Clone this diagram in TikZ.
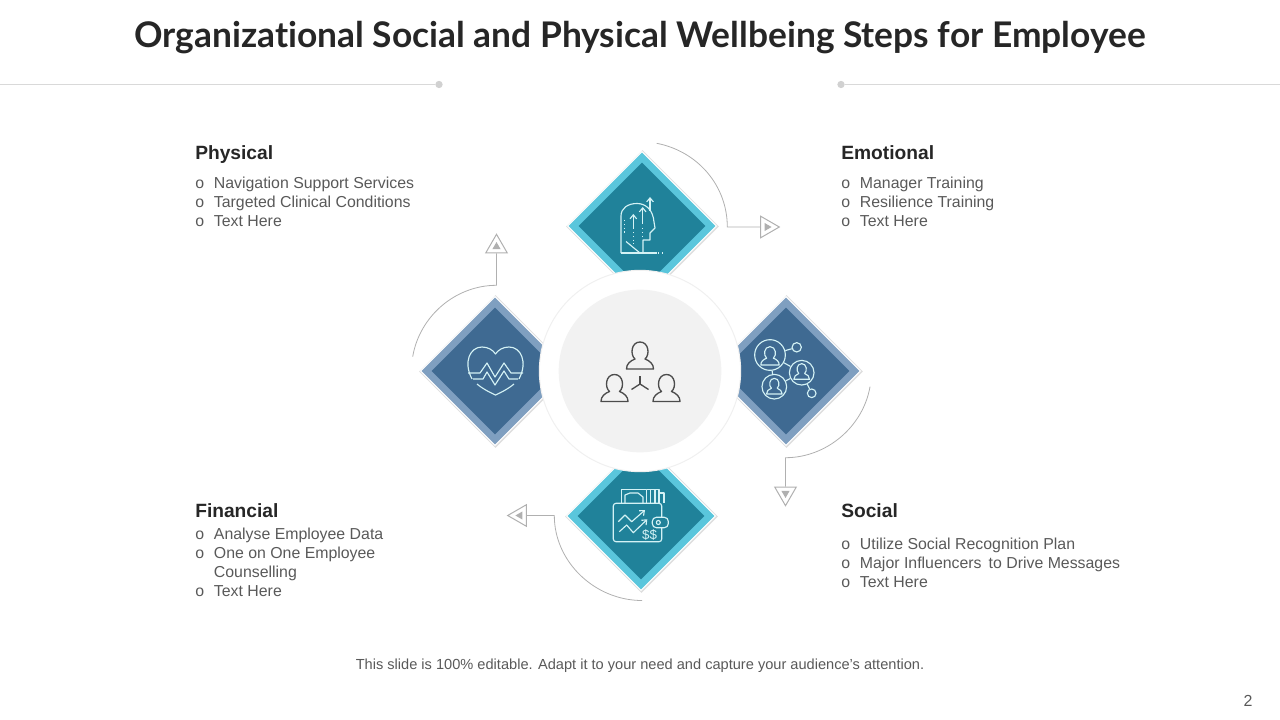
\documentclass[tikz,border=0pt]{standalone}
\usepackage{fontspec}
\setmainfont{Liberation Sans}
\newfontfamily\titlefont[Ligatures=NoCommon]{Lato}
\usetikzlibrary{shapes.geometric,arrows.meta}
\definecolor{tealIn}{HTML}{20829A}
\definecolor{tealOut}{HTML}{5AC6DC}
\definecolor{blueIn}{HTML}{3F6A92}
\definecolor{blueOut}{HTML}{7F9FC0}
\definecolor{bodyGrey}{HTML}{595959}
\definecolor{headDark}{HTML}{262626}
\definecolor{arcGrey}{HTML}{B0B0B0}
\definecolor{iconLight}{HTML}{D4F2F5}
\tikzset{
  tile/.style={shape=diamond,aspect=1,inner sep=0pt,outer sep=0pt},
  tileshade/.style={tile,fill=black!13,minimum width=114.5pt,minimum height=114.5pt},
  tileout/.style={tile,draw=white,line width=0.8pt,minimum width=111.5pt,minimum height=111.5pt},
  tilein/.style={tile,minimum width=95pt,minimum height=95pt},
  tipout/.style={shape=regular polygon,regular polygon sides=3,draw=arcGrey,fill=white,line width=0.75pt,inner sep=0pt,minimum size=18.6pt},
  tipin/.style={shape=regular polygon,regular polygon sides=3,fill=arcGrey,inner sep=0pt,minimum size=7pt},
  arcline/.style={draw=arcGrey,line width=0.6pt},
  iconline/.style={draw=iconLight,line width=0.85pt,line join=round},
  darkline/.style={draw=black!70,line width=1pt,line join=round},
  head/.style={anchor=base west,inner sep=0pt,font=\fontsize{14.4}{17}\selectfont\bfseries,text=headDark},
  blurb/.style={anchor=north west,inner sep=0pt,text=bodyGrey,font=\fontsize{11.9}{14.25}\selectfont},
  hub/.style={shape=circle,draw=iconLight,line width=0.85pt,inner sep=0pt},
  pics/person/.style={code={
    \draw[pic actions] (-13.5,0) -- (13.5,0) .. controls (13.5,-5) and (10,-8) .. (5,-10)
      .. controls (10,-14) and (9,-27) .. (0,-27) .. controls (-9,-27) and (-10,-14) .. (-5,-10)
      .. controls (-10,-8) and (-13.5,-5) .. (-13.5,0) -- cycle;
  }}
}
\begin{document}
\begin{tikzpicture}[x=0.75pt,y=-0.75pt]
\useasboundingbox (0,0) rectangle (1280,720);

\node[inner sep=0pt] (title) at (640,38) {\titlefont\fontsize{26.5}{30}\selectfont\bfseries\textcolor{headDark}{Organizational Social and Physical Wellbeing Steps for Employee}};

% rule under the title
\node[circle,fill=black!18,minimum size=5.5pt,inner sep=0pt] (dotL) at (439,84.5) {};
\node[circle,fill=black!18,minimum size=5.5pt,inner sep=0pt] (dotR) at (841,84.5) {};
\coordinate (ruleL) at (0,84.5);
\coordinate (ruleR) at (1280,84.5);
\draw[black!15,line width=0.75pt] (ruleL) -- (dotL);
\draw[black!15,line width=0.75pt] (dotR) -- (ruleR);

% tiles
\node[tileshade] (topShade) at (642.5,226.5) {};
\node[tileout,fill=tealOut] (topOut) at (642,226) {};
\node[tilein,fill=tealIn] (topIn) at (642,226) {};
\node[tileshade] (leftShade) at (495.5,371.5) {};
\node[tileout,fill=blueOut] (leftOut) at (495,371) {};
\node[tilein,fill=blueIn] (leftIn) at (495,371) {};
\node[tileshade] (rightShade) at (786.5,371.5) {};
\node[tileout,fill=blueOut] (rightOut) at (786,371) {};
\node[tilein,fill=blueIn] (rightIn) at (786,371) {};
\node[tileshade] (botShade) at (641.5,516.5) {};
\node[tileout,fill=tealOut] (botOut) at (641,516) {};
\node[tilein,fill=tealIn] (botIn) at (641,516) {};

% centre
\node[circle,draw=black!6,fill=white,line width=0.75pt,minimum size=151pt,inner sep=0pt] (ring) at (640,371) {};
\node[circle,fill=black!5,minimum size=122pt,inner sep=0pt] (disc) at (640,371) {};
\pic[darkline] at (640,369) {person};
\pic[darkline] at (614.5,401.5) {person};
\pic[darkline] at (666.5,401.5) {person};
\coordinate (forkC) at (640,384);
\coordinate (forkA) at (640,376);
\coordinate (forkB) at (631.5,389.5);
\coordinate (forkD) at (648.5,389.5);
\draw[darkline] (forkC) -- (forkA);
\draw[darkline] (forkC) -- (forkB);
\draw[darkline] (forkC) -- (forkD);

% head icon
\draw[iconline] (621,253) -- (621,216) .. controls (621,208) and (628,203.5) .. (637,203.5)
  .. controls (646,203.5) and (653,210) .. (654,222) -- (655,228) -- (650,233) -- (650,240) -- (643,240) -- (643,253);
\draw[iconline] (621,253) -- (657,253);
\draw[iconline] (626,241.5) -- (640,253);
\draw[iconline,-{Straight Barb[length=3pt,width=5pt]}] (633.3,229) -- (633.3,214);
\draw[iconline,-{Straight Barb[length=3pt,width=5pt]}] (642.7,224) -- (642.7,207);
\draw[iconline,-{Straight Barb[length=3pt,width=5pt]}] (650,211) -- (650,197);
\draw[iconline,dotted] (624.3,220) -- (624.3,233);
\draw[iconline,dotted] (633.3,232) -- (633.3,244);
\draw[iconline,dotted] (642.7,228) -- (642.7,238);
\draw[iconline,dotted] (658,253) -- (663,253);

% heart icon
\draw[iconline] (472,379) .. controls (463,362) and (470,347) .. (482,347) .. controls (488,347) and (493,350) .. (495.5,354)
  .. controls (498,350) and (503,347) .. (509,347) .. controls (521,347) and (528,362) .. (519,379);
\draw[iconline] (468,373) -- (480,373) -- (487,363) -- (495,377) -- (504,363) -- (511,373) -- (523,373);
\draw[iconline] (473,379) -- (483,379) -- (487,372) -- (495,385) -- (504,371) -- (509,379) -- (518,379);
\draw[iconline] (477,384) .. controls (483,389) and (489,392) .. (495.5,395) .. controls (502,392) and (508,389) .. (514,384);

% people network icon
\node[hub,minimum size=23pt] (hubA) at (770,355) {};
\node[hub,minimum size=18.5pt] (hubB) at (801.7,372.7) {};
\node[hub,minimum size=18.5pt] (hubC) at (774.3,386.7) {};
\node[hub,minimum size=7pt] (hubD) at (796.7,347.3) {};
\node[hub,minimum size=6.5pt] (hubE) at (811.7,393.3) {};
\draw[iconline] (hubA) -- (hubD);
\draw[iconline] (hubA) -- (hubB);
\draw[iconline] (hubA) -- (hubC);
\draw[iconline] (hubC) -- (hubB);
\draw[iconline] (hubB) -- (hubE);
\pic[iconline,scale=0.68] at (770,365) {person};
\pic[iconline,scale=0.58] at (801.7,379.3) {person};
\pic[iconline,scale=0.58] at (774.3,394) {person};

% wallet icon
\draw[iconline,rounded corners=2pt] (613.3,503.3) rectangle (661.7,541.7);
\draw[iconline,rounded corners=3pt,fill=tealIn] (652.3,517.3) rectangle (668.3,527.7);
\draw[iconline] (658.3,522.5) circle (2);
\draw[iconline] (621.7,503) -- (621.7,489.3) -- (646.7,489.3) -- (646.7,503);
\draw[iconline] (650.7,489.3) -- (650.7,503);
\draw[iconline] (655,489.3) -- (655,503);
\draw[iconline] (646.7,489.3) -- (659,489.3) -- (659,503);
\draw[iconline] (659,493) -- (664,493) -- (664,503);
\draw[iconline] (625,503) -- (625,495) -- (630,493) -- (638,493) -- (643,497) -- (643,503);
\draw[iconline,-{Straight Barb[length=3pt,width=5pt]}] (618.3,521.7) -- (625,515) -- (631.7,521.7) -- (645,510);
\draw[iconline,-{Straight Barb[length=3pt,width=5pt]}] (619.3,531.7) -- (626.7,525) -- (633.3,532.7) -- (647.3,519.3);
\node[inner sep=0pt,text=iconLight,font=\fontsize{10}{11}\selectfont] (cash) at (649.5,535) {\$\$};

% arrow tips
\node[tipout,rotate=-90] (tipE) at (766.9,227) {};
\node[tipin,rotate=-90] (tipEin) at (766.9,227) {};
\node[tipout,rotate=180] (tipS) at (785.5,493.3) {};
\node[tipin,rotate=180] (tipSin) at (785.5,493.3) {};
\node[tipout,rotate=90] (tipW) at (520.1,515.5) {};
\node[tipin,rotate=90] (tipWin) at (520.1,515.5) {};
\node[tipout] (tipN) at (496.5,246.7) {};
\node[tipin] (tipNin) at (496.5,246.7) {};

% arcs
\coordinate (arcE) at (656.7,143.3);
\coordinate (bendE) at (727.3,227);
\coordinate (arcS) at (870,386.7);
\coordinate (bendS) at (785.5,457.7);
\coordinate (arcW) at (642,600.5);
\coordinate (bendW) at (554.3,515.5);
\coordinate (arcN) at (412.7,356.7);
\coordinate (bendN) at (496.5,285.3);
\draw[arcline] (arcE) .. controls (697.5,151.2) and (727.3,185.4) .. (bendE) -- (tipE);
\draw[arcline] (arcS) .. controls (863,427) and (826.3,457.7) .. (bendS) -- (tipS);
\draw[arcline] (arcW) .. controls (595,600.5) and (554.3,562) .. (bendW) -- (tipW);
\draw[arcline] (arcN) .. controls (419.5,316.3) and (455.3,285.3) .. (bendN) -- (tipN);

% labels
\node[head] (physical) at (195,159.5) {Physical};
\node[blurb] (physicalText) at (195,175) {\begin{tabular}{@{}p{14pt}@{}l@{}}o & Navigation Support Services\\ o & Targeted Clinical Conditions\\ o & Text Here\end{tabular}};
\node[head] (emotional) at (841,159.5) {Emotional};
\node[blurb] (emotionalText) at (841,175) {\begin{tabular}{@{}p{14pt}@{}l@{}}o & Manager Training\\ o & Resilience Training\\ o & Text Here\end{tabular}};
\node[head] (financial) at (195,517.5) {Financial};
\node[blurb] (financialText) at (195,526) {\begin{tabular}{@{}p{14pt}@{}l@{}}o & Analyse Employee Data\\ o & One on One Employee\\ & Counselling\\ o & Text Here\end{tabular}};
\node[head] (social) at (841,517.5) {Social};
\node[blurb] (socialText) at (841,536) {\begin{tabular}{@{}p{14pt}@{}l@{}}o & Utilize Social Recognition Plan\\ o & Major Influencers\hspace{2pt} to Drive Messages\\ o & Text Here\end{tabular}};

\node[inner sep=0pt,text=bodyGrey,font=\fontsize{10.95}{13}\selectfont] (footer) at (640,665.5) {This slide is 100\% editable. Adapt it to your need and capture your audience’s attention.};
\node[inner sep=0pt,text=bodyGrey,font=\fontsize{12}{14}\selectfont] (pageNo) at (1248,701) {2};
\end{tikzpicture}
\end{document}
